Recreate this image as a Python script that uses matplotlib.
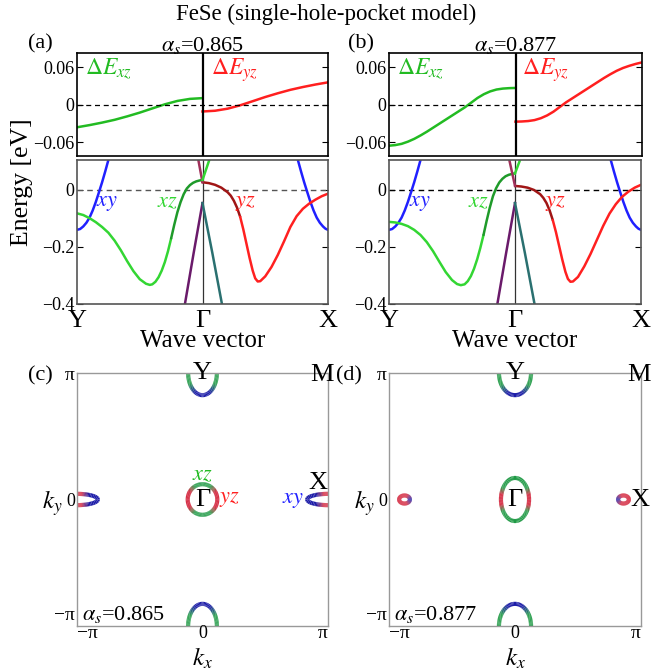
import numpy as np
import matplotlib
matplotlib.use('Agg')
import matplotlib.pyplot as plt
from matplotlib.patches import Arc
from matplotlib.colors import to_rgb

plt.rcParams['font.family'] = ['Liberation Serif', 'DejaVu Serif']
plt.rcParams['mathtext.fontset'] = 'stix'

W, H = 652., 671.

alpha_s = ['0.865', '0.877']
path_ticks = [-1, 0, 1]
path_labels = ['Y', 'Γ', 'X']

# ---- top row: Delta E along Y-Gamma (xz) and Gamma-X (yz), eV
dExz_k_a = [-1.0, -0.9, -0.8, -0.7, -0.6, -0.5, -0.4, -0.3, -0.2, -0.1, 0.0]
dExz_a = [-0.036, -0.0325, -0.0285, -0.024, -0.0185, -0.0125, -0.0058, 0.0008, 0.0062, 0.0095, 0.0107]
dEyz_k_a = [0.0, 0.1, 0.2, 0.3, 0.4, 0.5, 0.6, 0.7, 0.8, 0.9, 1.0]
dEyz_a = [-0.0107, -0.0095, -0.0062, -0.0008, 0.0058, 0.0125, 0.0185, 0.024, 0.0285, 0.0325, 0.036]

dExz_k_b = [-1.0, -0.95, -0.9, -0.85, -0.8, -0.75, -0.7, -0.65, -0.6, -0.55, -0.5,
            -0.45, -0.4, -0.35, -0.3, -0.25, -0.2, -0.15, -0.1, -0.05, 0.0]
dExz_b = [-0.0655, -0.0645, -0.0625, -0.059, -0.0545, -0.049, -0.043, -0.0365, -0.030, -0.0235, -0.017,
          -0.0105, -0.004, 0.0035, 0.011, 0.017, 0.0215, 0.0245, 0.026, 0.0267, 0.027]
dEyz_k_b = [0.0, 0.05, 0.1, 0.15, 0.2, 0.25, 0.3, 0.35, 0.4, 0.45, 0.5,
            0.55, 0.6, 0.65, 0.7, 0.75, 0.8, 0.85, 0.9, 0.95, 1.0]
dEyz_b = [-0.027, -0.0267, -0.026, -0.0245, -0.0215, -0.017, -0.011, -0.0035, 0.004, 0.0105, 0.017,
          0.0235, 0.030, 0.0365, 0.043, 0.049, 0.0545, 0.059, 0.0625, 0.0655, 0.068]

# ---- band structure, panel (a)
xz_k_a = [-1.0, -0.95, -0.9, -0.85, -0.8, -0.75, -0.7, -0.65, -0.6, -0.55, -0.5, -0.45, -0.42,
          -0.4, -0.375, -0.35, -0.325, -0.3, -0.275, -0.25, -0.225, -0.2, -0.175, -0.15, -0.125,
          -0.1, -0.075, -0.05, -0.025, 0.0]
xz_E_a = [-0.082, -0.088, -0.099, -0.113, -0.130, -0.150, -0.178, -0.212, -0.250, -0.285, -0.313,
          -0.329, -0.333, -0.331, -0.322, -0.306, -0.283, -0.253, -0.215, -0.170, -0.122, -0.078,
          -0.043, -0.015, 0.005, 0.017, 0.025, 0.030, 0.033, 0.035]
yz_k_a = [0.0, 0.05, 0.1, 0.15, 0.2, 0.225, 0.25, 0.275, 0.3, 0.325, 0.35, 0.375, 0.4, 0.42,
          0.44, 0.46, 0.5, 0.55, 0.6, 0.65, 0.7, 0.75, 0.8, 0.85, 0.9, 0.95, 1.0]
yz_E_a = [0.027, 0.024, 0.018, 0.008, -0.008, -0.020, -0.038, -0.062, -0.094, -0.138, -0.188,
          -0.238, -0.283, -0.310, -0.321, -0.320, -0.303, -0.270, -0.228, -0.180, -0.130, -0.092,
          -0.066, -0.048, -0.034, -0.022, -0.013]
upL_k_a = [-0.033, 0.0]
upL_E_a = [0.105, 0.027]
upR_k_a = [0.0, 0.054]
upR_E_a = [0.035, 0.105]

# ---- band structure, panel (b)
xz_k_b = [-1.0, -0.95, -0.9, -0.85, -0.8, -0.75, -0.7, -0.65, -0.6, -0.55, -0.5, -0.46, -0.43,
          -0.4, -0.375, -0.35, -0.325, -0.3, -0.275, -0.25, -0.225, -0.2, -0.175, -0.15, -0.125,
          -0.1, -0.075, -0.05, -0.025, 0.0]
xz_E_b = [-0.112, -0.114, -0.119, -0.127, -0.140, -0.158, -0.183, -0.215, -0.252, -0.288, -0.316,
          -0.330, -0.334, -0.331, -0.320, -0.302, -0.276, -0.243, -0.203, -0.158, -0.108, -0.062,
          -0.022, 0.006, 0.026, 0.039, 0.048, 0.053, 0.056, 0.058]
yz_k_b = [0.0, 0.05, 0.1, 0.15, 0.2, 0.225, 0.25, 0.275, 0.3, 0.325, 0.35, 0.375, 0.4, 0.42,
          0.44, 0.46, 0.5, 0.55, 0.6, 0.65, 0.7, 0.75, 0.8, 0.85, 0.9, 0.95, 1.0]
yz_E_b = [0.014, 0.012, 0.008, 0.000, -0.015, -0.028, -0.046, -0.072, -0.106, -0.148, -0.196,
          -0.244, -0.287, -0.312, -0.322, -0.321, -0.305, -0.268, -0.224, -0.175, -0.126, -0.083,
          -0.050, -0.024, -0.006, 0.008, 0.018]
upL_k_b = [-0.045, 0.0]
upL_E_b = [0.105, 0.014]
upR_k_b = [0.0, 0.04]
upR_E_b = [0.058, 0.105]

# xy bands near Y and X (same in both panels)
xyL_k = [-1.0, -0.975, -0.95, -0.925, -0.9, -0.875, -0.85, -0.825, -0.8, -0.775, -0.75]
xyL_E = [-0.140, -0.137, -0.128, -0.115, -0.097, -0.072, -0.042, -0.008, 0.027, 0.065, 0.105]
xyR_k = [0.76, 0.785, 0.81, 0.835, 0.86, 0.885, 0.91, 0.935, 0.96, 0.98, 1.0]
xyR_E = [0.105, 0.065, 0.027, -0.008, -0.042, -0.072, -0.097, -0.115, -0.128, -0.136, -0.140]

# hole-like bands below Gamma (same in both)
holeL_k = [0.0, -0.07, -0.14]
holeR_k = [0.0, 0.078, 0.155]
hole_E = [-0.046, -0.22, -0.40]

# ---- Fermi surfaces: centre-line diameters of the pockets (in k units)
gam_c = (0.74, 0.76)
gam_d = (0.70, 1.07)
ypk_c = (0.72, 1.10)
ypk_d = (0.80, 1.10)
xpk_c = (1.04, 0.28)
xring_d = (0.27, 0.20)
xring_d_kx = [-2.755, 2.705]

G_FS, B_FS, R_FS = '#1f9a45', '#1c1ca8', '#d0102a'
GREEN, DGREEN = '#33d633', '#1f9a2a'
RED, DRED = '#ff2020', '#a01515'
BLUE = '#2020ff'


def rect(l, t, r, b):
    return [l / W, 1 - b / H, (r - l) / W, (b - t) / H]


def two_tone(ax, k, E, split, c1, c2, lw=1.8):
    k = np.asarray(k)
    E = np.asarray(E)
    i = int(np.argmax(k >= split))
    ax.plot(k[:i + 1], E[:i + 1], color=c1, lw=lw, solid_capstyle='round')
    ax.plot(k[i:], E[i:], color=c2, lw=lw, solid_capstyle='round')


def pocket(ax, x0, y0, w, h, angles, colors, step=3):
    rgb = np.array([to_rgb(c) for c in colors])
    for a in np.arange(0, 360, step):
        c = [np.interp(a + step / 2., angles, rgb[:, j]) for j in range(3)]
        ax.add_patch(Arc((x0, y0), w, h, theta1=a, theta2=a + step, color=c, lw=3.0))


fig = plt.figure(figsize=(W / 100., H / 100.), dpi=100)

fig.text(326 / W, 1 - 14 / H, 'FeSe (single-hole-pocket model)', ha='center', va='center', fontsize=16.5)
fig.text(22 / W, 1 - 182 / H, 'Energy [eV]', ha='center', va='center', rotation=90, fontsize=18.5)

tops = [rect(77, 53, 328, 156), rect(389, 53, 642, 156)]
mids = [rect(77, 160, 328, 304), rect(389, 160, 641, 304)]
bots = [rect(77, 373, 328, 626), rect(389, 373, 641, 626)]
letters = [('(a)', 40), ('(b)', 361)]
dE = [(dExz_k_a, dExz_a, dEyz_k_a, dEyz_a), (dExz_k_b, dExz_b, dEyz_k_b, dEyz_b)]
bands = [(xz_k_a, xz_E_a, yz_k_a, yz_E_a, upL_k_a, upL_E_a, upR_k_a, upR_E_a),
         (xz_k_b, xz_E_b, yz_k_b, yz_E_b, upL_k_b, upL_E_b, upR_k_b, upR_E_b)]
lab_pos = [((107, 203), (167, 203), (245, 203)), ((420, 203), (478, 203), (555, 203))]

for p in range(2):
    """delta E panel"""
    ax = fig.add_axes(tops[p])
    kx1, e1, kx2, e2 = dE[p]
    ax.plot(kx1, e1, color='#22bb22', lw=1.8)
    ax.plot(kx2, e2, color='#ff1f1f', lw=1.8)
    ax.axhline(0, color='k', lw=0.9, ls=(0, (4, 3)))
    ax.axvline(0, color='k', lw=1.6)
    ax.set_xlim(-1, 1)
    ax.set_ylim(-0.082, 0.083)
    ax.set_xticks([])
    ax.set_yticks([-0.06, 0, 0.06])
    ax.set_yticklabels(['\u22120.06', '0', '0.06'], fontsize=13)
    ax.tick_params(axis='y', direction='in', right=True, length=4, pad=2)
    for s in ax.spines.values():
        s.set_linewidth(1.2)
    ax.text(-0.94, 0.056, r'$\Delta E_{xz}$', color='#22bb22', fontsize=17, va='center')
    ax.text(0.07 if p == 0 else 0.05, 0.056, r'$\Delta E_{yz}$', color='#ff1f1f', fontsize=17, va='center')
    cx = (tops[p][0] + tops[p][2] / 2.)
    fig.text(cx, 1 - 45 / H, r'$\alpha_s$=' + alpha_s[p], ha='center', va='center', fontsize=16)
    fig.text(letters[p][1] / W, 1 - 44 / H, letters[p][0], ha='center', va='center', fontsize=16)

    """band structure"""
    ax = fig.add_axes(mids[p])
    xz_k, xz_E, yz_k, yz_E, upL_k, upL_E, upR_k, upR_E = bands[p]
    ax.axhline(0, color='#555555' if p == 0 else 'k', lw=1.0, ls=(0, (4, 3)))
    ax.axvline(0, color='#333333', lw=0.9)
    ax.plot(xyL_k, xyL_E, color=BLUE, lw=1.8)
    ax.plot(xyR_k, xyR_E, color=BLUE, lw=1.8)
    two_tone(ax, xz_k, xz_E, -0.25, GREEN, DGREEN)
    two_tone(ax, yz_k, yz_E, 0.30, DRED, RED)
    ax.plot(holeL_k, hole_E, color='#6a1a6a', lw=1.8)
    ax.plot(holeR_k, hole_E, color='#2a7070', lw=1.8)
    ax.plot(upL_k, upL_E, color='#a0305a', lw=1.8)
    ax.plot(upR_k, upR_E, color=GREEN, lw=1.8)
    ax.set_xlim(-1, 1)
    ax.set_ylim(-0.4, 0.105)
    ax.set_xticks(path_ticks)
    ax.set_xticklabels(path_labels, fontsize=19)
    ax.tick_params(axis='x', length=0, pad=4)
    ax.set_yticks([-0.4, -0.2, 0])
    ax.set_yticklabels(['\u22120.4', '\u22120.2', '0'], fontsize=13)
    ax.tick_params(axis='y', direction='in', right=True, length=4, pad=2)
    for s in ax.spines.values():
        s.set_linewidth(1.2)
        s.set_color('#555555')
    cx = mids[p][0] + mids[p][2] / 2.
    fig.text(cx, 1 - 341 / H, 'Wave vector', ha='center', va='center', fontsize=18)
    for (px, py), t, c in zip(lab_pos[p], ['xy', 'xz', 'yz'], [BLUE, GREEN, RED]):
        fig.text(px / W, 1 - py / H, '$' + t + '$', color=c, fontsize=16, ha='center', va='center')

# ---- Fermi surfaces
pi = np.pi
for p in range(2):
    ax = fig.add_axes(bots[p])
    ax.set_xlim(-pi, pi)
    ax.set_ylim(-pi, pi)
    ax.set_xticks([])
    ax.set_yticks([])
    for s in ax.spines.values():
        s.set_color('#999999')
        s.set_linewidth(1.0)
    gam = gam_c if p == 0 else gam_d
    ypk = ypk_c if p == 0 else ypk_d
    if p == 0:
        pocket(ax, 0, 0, gam[0], gam[1], [0, 30, 60, 120, 150, 210, 240, 300, 330, 360],
               [R_FS, R_FS, G_FS, G_FS, R_FS, R_FS, G_FS, G_FS, R_FS, R_FS])
    else:
        pocket(ax, 0, 0, gam[0], gam[1], [0, 20, 45, 135, 160, 200, 225, 315, 340, 360],
               [R_FS, R_FS, G_FS, G_FS, R_FS, R_FS, G_FS, G_FS, R_FS, R_FS])
    pocket(ax, 0, pi, ypk[0], ypk[1], [0, 180, 220, 250, 290, 320, 360],
           [G_FS, G_FS, G_FS, B_FS, B_FS, G_FS, G_FS])
    pocket(ax, 0, -pi, ypk[0], ypk[1], [0, 40, 70, 110, 140, 180, 360],
           [G_FS, G_FS, B_FS, B_FS, G_FS, G_FS, G_FS])
    if p == 0:
        pocket(ax, -pi, 0, xpk_c[0], xpk_c[1], [0, 20, 50, 310, 340, 360],
               [B_FS, B_FS, R_FS, R_FS, B_FS, B_FS])
        pocket(ax, pi, 0, xpk_c[0], xpk_c[1], [0, 130, 160, 200, 230, 360],
               [R_FS, R_FS, B_FS, B_FS, R_FS, R_FS])
    else:
        pocket(ax, xring_d_kx[0], 0, xring_d[0], xring_d[1], [0, 60, 300, 360],
               [B_FS, R_FS, R_FS, B_FS], step=6)
        pocket(ax, xring_d_kx[1], 0, xring_d[0], xring_d[1], [0, 120, 180, 240, 360],
               [R_FS, R_FS, B_FS, R_FS, R_FS], step=6)

    ax.text(0, pi, 'Y', ha='center', va='center', fontsize=19, clip_on=False)
    ax.text(0, 0, 'Γ', ha='center', va='center', fontsize=19)
    if p == 0:
        ax.text(2.98, pi - 0.05, 'M', ha='center', va='center', fontsize=19, clip_on=False)
        ax.text(2.90, 0.41, 'X', ha='center', va='center', fontsize=19, clip_on=False)
        ax.text(0, 0.6, '$xz$', color='#22bb22', ha='center', va='center', fontsize=16)
        ax.text(0.68, 0, '$yz$', color='#ff1f1f', ha='center', va='center', fontsize=16)
        ax.text(2.26, -0.02, '$xy$', color=BLUE, ha='center', va='center', fontsize=16)
    else:
        ax.text(3.09, pi - 0.05, 'M', ha='center', va='center', fontsize=19, clip_on=False)
        ax.text(3.12, 0.0, 'X', ha='center', va='center', fontsize=19, clip_on=False)
    ax.text(-pi + 0.12, -pi + 0.28, r'$\alpha_s$=' + alpha_s[p], ha='left', va='center', fontsize=16)

    l, b, w, h = bots[p]
    xl = l * W
    xr = (l + w) * W
    xc = (xl + xr) / 2.
    fig.text((xl - 2) / W, 1 - 375 / H, 'π', ha='right', va='center', fontsize=14)
    fig.text((xl - 2) / W, 1 - 502 / H, '0', ha='right', va='center', fontsize=13)
    fig.text((xl - 2) / W, 1 - 615 / H, '\u2212π', ha='right', va='center', fontsize=14)
    fig.text((xl - 14) / W, 1 - 503 / H, '$k_y$', ha='right', va='center', fontsize=18)
    fig.text(xl / W, 1 - 633 / H, '\u2212π', ha='left', va='center', fontsize=14)
    fig.text(xc / W, 1 - 634 / H, '0', ha='center', va='center', fontsize=13)
    fig.text(xr / W, 1 - 633 / H, 'π', ha='right', va='center', fontsize=14)
    fig.text(xc / W, 1 - 658 / H, '$k_x$', ha='center', va='center', fontsize=18)
    fig.text((40 if p == 0 else 349) / W, 1 - 376 / H, '(c)' if p == 0 else '(d)', ha='center',
             va='center', fontsize=16)

fig.savefig('out.png', dpi=100)
